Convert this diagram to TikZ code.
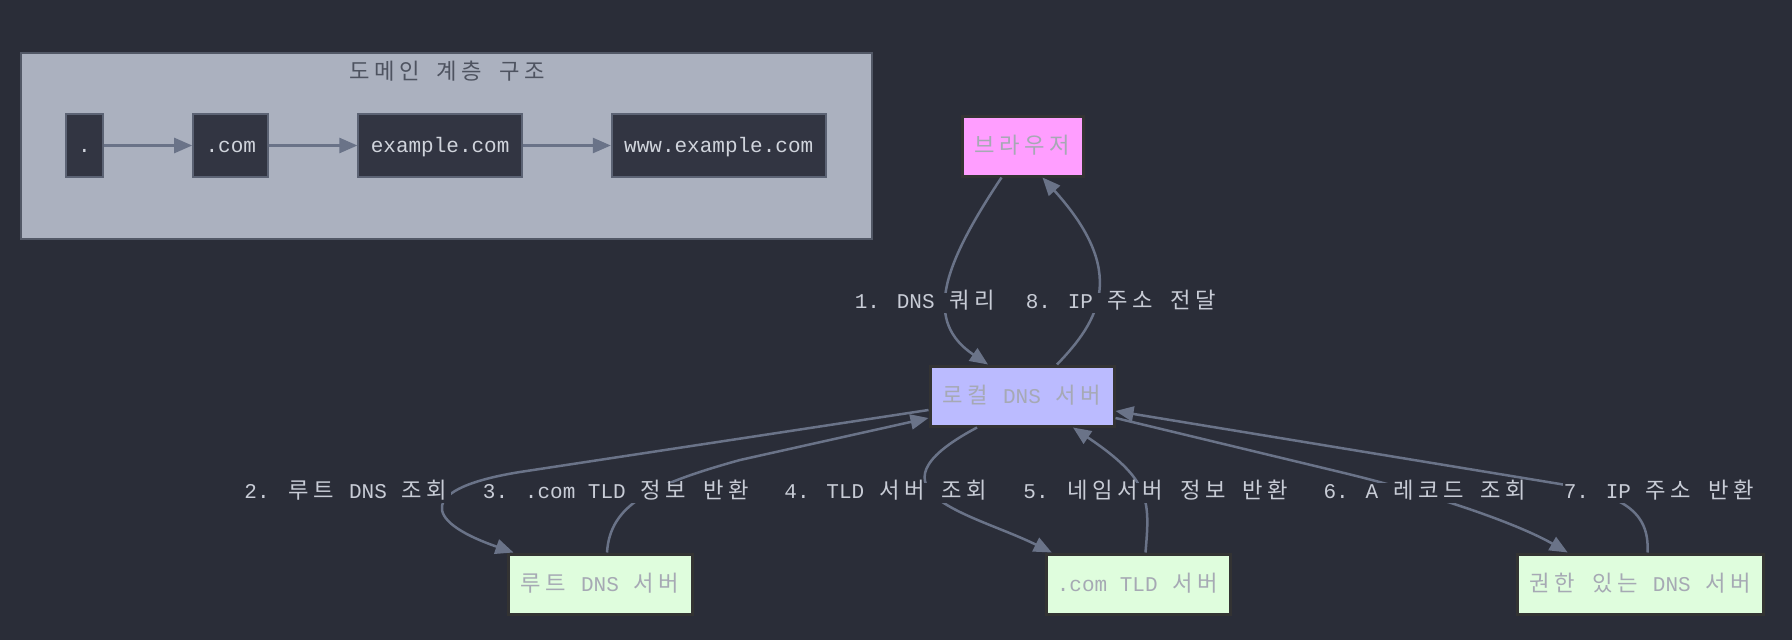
\documentclass[tikz,border=0pt]{standalone}
\usepackage{fontspec}
\setmainfont{Liberation Mono}
\newfontfamily\krfont[Scale=1.06]{Noto Sans CJK KR}
% each hangul glyph gets a double-width cell
\def\kend{}
\def\kloop#1{\ifx#1\kend\else\makebox[25pt]{#1}\expandafter\kloop\fi}
\newcommand{\ktxt}[1]{{\krfont\kloop#1\kend}}
\usepackage{tikz}
\usetikzlibrary{arrows.meta,positioning}

\definecolor{bg}{RGB}{42,45,56}
\definecolor{clusterfill}{RGB}{171,177,191}
\definecolor{clusterline}{RGB}{82,88,102}
\definecolor{domfill}{RGB}{50,53,66}
\definecolor{domline}{RGB}{92,99,116}
\definecolor{domtext}{RGB}{208,212,220}
\definecolor{edgecol}{RGB}{106,115,136}
\definecolor{labeltext}{RGB}{200,204,214}
\definecolor{nodetext}{RGB}{166,169,180}
\definecolor{titletext}{RGB}{78,83,96}
\definecolor{browserfill}{RGB}{255,158,255}
\definecolor{localfill}{RGB}{187,187,255}
\definecolor{serverfill}{RGB}{223,253,221}
\definecolor{boxline}{RGB}{51,51,51}

\begin{document}
\begin{tikzpicture}[x=1pt, y=-1pt, font=\fontsize{21}{25}\selectfont,
    >={Triangle[length=18pt,width=15pt]},
    node distance=88pt,
    cluster/.style={draw=clusterline, line width=2pt, fill=clusterfill, minimum width=851pt, minimum height=186pt},
    dom/.style={draw=domline, line width=2pt, fill=domfill, text=domtext, inner xsep=12.4pt, minimum height=63pt, text height=18pt, text depth=4pt},
    host/.style={draw=boxline, line width=3pt, text=nodetext, inner xsep=10.5pt, minimum height=60pt, text height=18pt, text depth=4pt},
    flow/.style={draw=edgecol, line width=2.5pt, ->},
    lbl/.style={fill=bg, text=labeltext, inner sep=1pt, text height=14pt, text depth=4pt}]

  \fill[bg] (0,0) rectangle (1792,640);

  % --- Domain hierarchy ---
  \node[cluster] (domain) at (446.5,146) {};
  \node[text=titletext] (title) at (447,71) {\ktxt{도메인} \ktxt{계층} \ktxt{구조}};
  \node[dom] (dot) at (84.5,145.5) {.};
  \node[dom, right=of dot] (com) {.com};
  \node[dom, right=of com] (example) {example.com};
  \node[dom, right=of example] (www) {www.example.com};

  \draw[flow] (dot) -- (com);
  \draw[flow] (com) -- (example);
  \draw[flow] (example) -- (www);

  % --- Resolver and servers ---
  \node[host, fill=browserfill] (browser) at (1022.5,146) {\ktxt{브라우저}};
  \node[host, fill=localfill] (local) at (1022,396) {\ktxt{로컬} DNS \ktxt{서버}};
  \node[host, fill=serverfill] (root) at (600,584) {\ktxt{루트} DNS \ktxt{서버}};
  \node[host, fill=serverfill] (tld) at (1138.5,584) {.com TLD \ktxt{서버}};
  \node[host, fill=serverfill] (auth) at (1640.5,584) {\ktxt{권한} \ktxt{있는} DNS \ktxt{서버}};

  \draw[flow] ([xshift=-21pt]browser.south) .. controls (940,270) and (925,322) .. ([xshift=-34pt]local.north);
  \draw[flow] ([xshift=35pt]local.north) .. controls (1100,320) and (1128,272) .. ([xshift=20pt]browser.south);
  \draw[flow] ([yshift=-14pt]local.west) -- (520,472) .. controls (420,488) and (420,520) .. ([xshift=7pt]root.north west);
  \draw[flow] ([xshift=7pt]root.north) .. controls (610,505) and (650,485) .. (740,460) -- ([yshift=-22pt]local.west);
  \draw[flow] ([xshift=-45pt]local.south) .. controls (856,492) and (974,514) .. ([xshift=7pt]tld.north west);
  \draw[flow] ([xshift=7pt]tld.north) .. controls (1150,500) and (1151,480) .. ([xshift=51pt]local.south);
  \draw[flow] ([yshift=-22pt]local.east) -- (1340,472) .. controls (1440,496) and (1520,525) .. ([xshift=52pt]auth.north west);
  \draw[flow] ([xshift=7pt]auth.north) .. controls (1650,510) and (1620,495) .. (1560,484) -- ([yshift=-15pt]local.east);

  % --- Edge labels ---
  \node[lbl] (q1) at (926,303) {1. DNS \ktxt{쿼리}};
  \node[lbl] (q8) at (1122,303) {8. IP \ktxt{주소} \ktxt{전달}};
  \node[lbl] (q2) at (347,493) {2. \ktxt{루트} DNS \ktxt{조회}};
  \node[lbl] (q3) at (617,493) {3. .com TLD \ktxt{정보} \ktxt{반환}};
  \node[lbl] (q4) at (887,493) {4. TLD \ktxt{서버} \ktxt{조회}};
  \node[lbl] (q5) at (1157,493) {5. \ktxt{네임서버} \ktxt{정보} \ktxt{반환}};
  \node[lbl] (q6) at (1426,493) {6. A \ktxt{레코드} \ktxt{조회}};
  \node[lbl] (q7) at (1660,493) {7. IP \ktxt{주소} \ktxt{반환}};
\end{tikzpicture}
\end{document}
